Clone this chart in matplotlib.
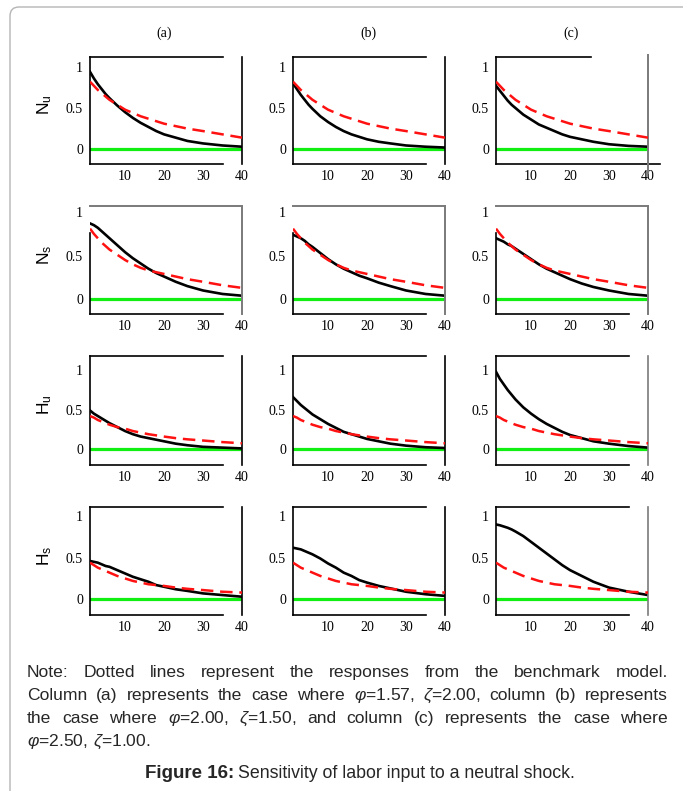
import matplotlib
matplotlib.use('Agg')
import matplotlib.pyplot as plt
from matplotlib.patches import FancyBboxPatch

plt.rcParams['mathtext.fontset'] = 'custom'
plt.rcParams['mathtext.rm'] = 'Liberation Sans'
plt.rcParams['mathtext.it'] = 'Liberation Sans:italic'

## data
steps = [1, 2, 3, 4, 5, 6, 8, 10, 12, 14, 16, 18, 20, 23, 26, 30, 35, 40]

# benchmark model (red dashed), same in every column of a row
bench_Nu = [0.82, 0.77, 0.72, 0.68, 0.64, 0.60, 0.54, 0.48, 0.44, 0.40, 0.37, 0.34, 0.31, 0.28, 0.25, 0.22, 0.18, 0.14]
bench_Ns = [0.81, 0.75, 0.70, 0.65, 0.61, 0.57, 0.51, 0.45, 0.40, 0.36, 0.33, 0.31, 0.29, 0.26, 0.23, 0.20, 0.16, 0.13]
bench_Hu = [0.42, 0.40, 0.37, 0.35, 0.33, 0.31, 0.28, 0.26, 0.23, 0.21, 0.19, 0.175, 0.16, 0.14, 0.125, 0.11, 0.09, 0.075]
bench_Hs = [0.44, 0.41, 0.38, 0.36, 0.34, 0.32, 0.28, 0.25, 0.22, 0.20, 0.18, 0.17, 0.16, 0.14, 0.125, 0.11, 0.09, 0.08]

# alternative cases (black), columns (a), (b), (c)
Nu_a = [0.94, 0.86, 0.79, 0.73, 0.67, 0.62, 0.53, 0.45, 0.38, 0.32, 0.27, 0.22, 0.18, 0.14, 0.10, 0.07, 0.045, 0.03]
Nu_b = [0.80, 0.73, 0.66, 0.60, 0.54, 0.49, 0.40, 0.33, 0.27, 0.22, 0.18, 0.15, 0.12, 0.09, 0.07, 0.045, 0.03, 0.02]
Nu_c = [0.77, 0.71, 0.65, 0.59, 0.54, 0.50, 0.42, 0.36, 0.30, 0.26, 0.22, 0.18, 0.15, 0.12, 0.09, 0.06, 0.04, 0.03]

Ns_a = [0.87, 0.85, 0.82, 0.78, 0.74, 0.70, 0.62, 0.54, 0.47, 0.41, 0.35, 0.30, 0.26, 0.20, 0.15, 0.10, 0.06, 0.04]
Ns_b = [0.74, 0.72, 0.70, 0.67, 0.63, 0.60, 0.53, 0.46, 0.40, 0.35, 0.31, 0.27, 0.24, 0.19, 0.15, 0.10, 0.06, 0.04]
Ns_c = [0.70, 0.68, 0.66, 0.63, 0.61, 0.58, 0.52, 0.46, 0.40, 0.35, 0.31, 0.27, 0.23, 0.18, 0.14, 0.10, 0.06, 0.04]

Hu_a = [0.49, 0.45, 0.42, 0.39, 0.36, 0.33, 0.28, 0.23, 0.19, 0.16, 0.14, 0.12, 0.10, 0.07, 0.05, 0.03, 0.02, 0.01]
Hu_b = [0.66, 0.61, 0.56, 0.52, 0.48, 0.44, 0.38, 0.32, 0.27, 0.22, 0.19, 0.16, 0.13, 0.10, 0.07, 0.045, 0.025, 0.015]
Hu_c = [0.98, 0.89, 0.82, 0.75, 0.69, 0.63, 0.53, 0.45, 0.38, 0.32, 0.27, 0.22, 0.18, 0.14, 0.10, 0.07, 0.04, 0.02]

Hs_a = [0.46, 0.45, 0.44, 0.42, 0.40, 0.39, 0.35, 0.31, 0.27, 0.24, 0.21, 0.17, 0.15, 0.12, 0.10, 0.07, 0.05, 0.03]
Hs_b = [0.62, 0.61, 0.60, 0.58, 0.56, 0.54, 0.49, 0.43, 0.38, 0.32, 0.28, 0.23, 0.20, 0.16, 0.13, 0.09, 0.06, 0.04]
Hs_c = [0.90, 0.89, 0.875, 0.86, 0.84, 0.815, 0.76, 0.69, 0.62, 0.55, 0.48, 0.41, 0.35, 0.28, 0.21, 0.14, 0.09, 0.05]

rows = [('N', 'u', bench_Nu, [Nu_a, Nu_b, Nu_c]),
        ('N', 's', bench_Ns, [Ns_a, Ns_b, Ns_c]),
        ('H', 'u', bench_Hu, [Hu_a, Hu_b, Hu_c]),
        ('H', 's', bench_Hs, [Hs_a, Hs_b, Hs_c])]
col_names = ['(a)', '(b)', '(c)']

## layout in pixels
W, H = 683, 791
col_left = [90, 293, 496]
col_mid = [164, 368, 571]
ax_w = 152
row_top = [57, 206, 356, 507]
row_bot = [164, 314, 465, 615]
ylims = [(-0.18, 1.12), (-0.17, 1.07), (-0.20, 1.18), (-0.19, 1.11)]

serif = 'Liberation Serif'
sans = 'Liberation Sans'
grey = '#7a7a7a'

fig = plt.figure(figsize=(W / 100, H / 100), dpi=100)

# rounded frame round the whole figure
frame = FancyBboxPatch((10, -30), 720, H - 7 + 30, boxstyle='round,pad=0,rounding_size=9',
                       transform=None, facecolor='none', edgecolor='#b5b5b5', linewidth=1.0)
fig.add_artist(frame)

for c in range(3):
    fig.text(col_mid[c] / W, 1 - 33 / H, col_names[c], ha='center', va='center',
             fontsize=10, family=serif)

for r, (sym, sub, bench, cases) in enumerate(rows):
    for c in range(3):
        ax = fig.add_axes([col_left[c] / W, 1 - row_bot[r] / H, ax_w / W,
                           (row_bot[r] - row_top[r]) / H])
        ax.set_xlim(1, 40)
        ax.set_ylim(*ylims[r])
        ax.axhline(0, color='#11ee11', linewidth=2.3, zorder=1)
        ax.plot(steps, cases[c], color='black', linewidth=1.9, zorder=2)
        ax.plot(steps, bench, color='#ff1111', linewidth=1.8, dashes=(5, 2.7), zorder=3)

        ax.set_xticks([10, 20, 30, 40])
        ax.set_yticks([0, 0.5, 1])
        ax.set_yticklabels(['0', '0.5', '1'])
        ax.tick_params(length=0, labelsize=10)
        ax.tick_params(axis='x', pad=4)
        ax.tick_params(axis='y', pad=5)
        for lab in ax.get_xticklabels() + ax.get_yticklabels():
            lab.set_family(serif)
        for s in ['top', 'right', 'bottom']:
            ax.spines[s].set_visible(False)
        ax.spines['left'].set_linewidth(1.2)

        xt = ax.get_xaxis_transform()
        vcol = grey if c == 2 else 'black'
        if r == 1:
            # this row is boxed with grey on top and right
            ax.spines['left'].set_bounds(ylims[r][0], 0.76)
            ax.plot([1, 40], [1, 1], transform=xt, color=grey, lw=1.4, clip_on=False)
            ax.plot([40, 40], [0, 1], transform=xt, color=grey, lw=1.4, clip_on=False)
            ax.plot([1, 35], [0, 0], transform=xt, color='black', lw=1.2, clip_on=False)
        elif r == 0 and c == 2:
            ax.plot([1, 25.3], [1, 1], transform=xt, color='black', lw=1.2, clip_on=False)
            ax.plot([1, 43], [0, 0], transform=xt, color='black', lw=1.2, clip_on=False)
            ax.plot([40, 40], [-0.08, 1.02], transform=xt, color=grey, lw=1.4, clip_on=False)
        else:
            ax.plot([1, 35], [1, 1], transform=xt, color='black', lw=1.2, clip_on=False)
            ax.plot([1, 35], [0, 0], transform=xt, color='black', lw=1.2, clip_on=False)
            ax.plot([40, 40], [0, 1], transform=xt, color=vcol, lw=1.2, clip_on=False)

        if c == 0:
            ax.set_ylabel(r'$\mathrm{%s}_\mathrm{%s}$' % (sym, sub), fontsize=12.5, labelpad=0)
            ax.yaxis.set_label_coords(-0.24, 0.55)

## caption, justified by hand
note_lines = [
    ['Note:', 'Dotted', 'lines', 'represent', 'the', 'responses', 'from', 'the', 'benchmark', 'model.'],
    ['Column', '(a)', 'represents', 'the', 'case', 'where', r'$\varphi$=1.57,', r'$\zeta$=2.00,',
     'column', '(b)', 'represents'],
    ['the', 'case', 'where', r'$\varphi$=2.00,', r'$\zeta$=1.50,', 'and', 'column', '(c)',
     'represents', 'the', 'case', 'where'],
    [r'$\varphi$=2.50,', r'$\zeta$=1.00.'],
]
baselines = [677, 700, 723, 746]
x0, x1 = 27, 668
txt_col = '#262626'
note_size = 12.6

renderer = fig.canvas.get_renderer()
for i, words in enumerate(note_lines):
    texts = [fig.text(0, 1 - baselines[i] / H, w, ha='left', va='baseline', fontsize=note_size,
                      family=sans, color=txt_col) for w in words]
    widths = [t.get_window_extent(renderer).width for t in texts]
    if i < len(note_lines) - 1:
        gap = (x1 - x0 - sum(widths)) / (len(words) - 1)
    else:
        gap = 5.5
    x = x0
    for t, w in zip(texts, widths):
        t.set_x(x / W)
        x += w + gap

fig.text(234 / W, 1 - 778 / H, 'Figure 16:', ha='right', va='baseline', fontsize=13.5,
         family=sans, weight='bold', color=txt_col)
fig.text(238 / W, 1 - 778 / H, 'Sensitivity of labor input to a neutral shock.', ha='left',
         va='baseline', fontsize=12.8, family=sans, color=txt_col)

plt.savefig('out.png', dpi=100)
